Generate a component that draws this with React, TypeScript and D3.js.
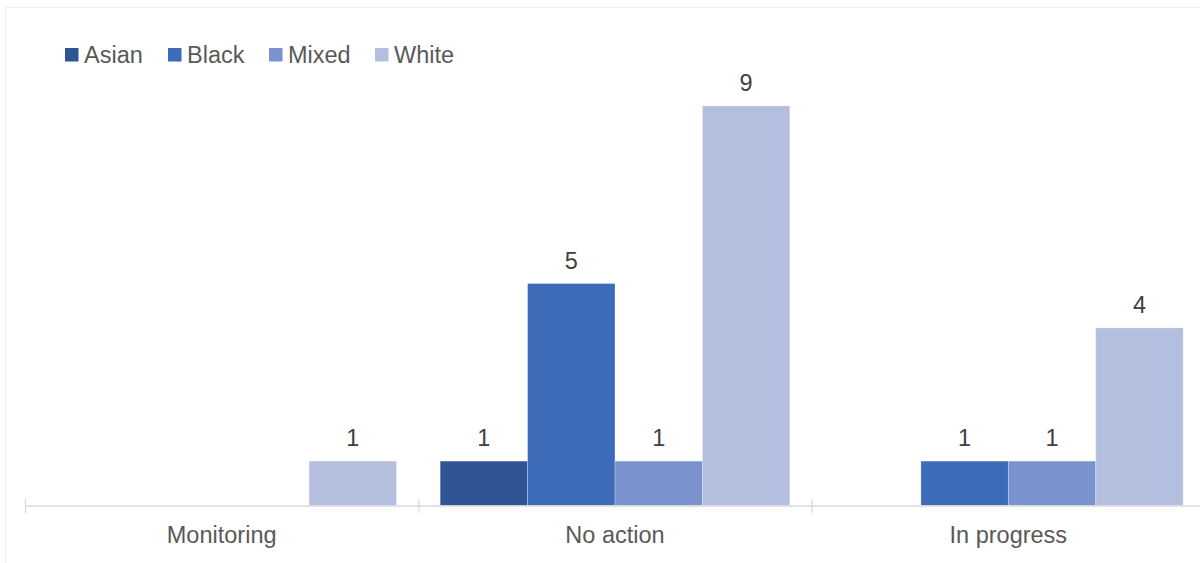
import React from "react";
import * as d3 from "d3";

const categories = ["Monitoring", "No action", "In progress"];
const seriesNames = ["Asian", "Black", "Mixed", "White"];
const asianValues = [0, 1, 0];
const blackValues = [0, 5, 1];
const mixedValues = [0, 1, 1];
const whiteValues = [1, 9, 4];
const seriesColors = ["#2F5597", "#3E6BB8", "#7A93CF", "#B4BFDF"];

const W = 1200;
const H = 563;

export default function App() {
  const seriesValues = [asianValues, blackValues, mixedValues, whiteValues];
  const x0 = d3.scaleBand<string>().domain(categories).range([25, 1205]).paddingInner(0).paddingOuter(0);
  const x1 = d3
    .scaleBand<string>()
    .domain(seriesNames)
    .range([0, x0.bandwidth()])
    .paddingInner(0)
    .paddingOuter(0.25);
  const y = d3.scaleLinear().domain([0, 10]).range([505.5, 61.5]);
  const font = "'Liberation Sans', Arial, sans-serif";

  const legendX = [65, 168, 269, 375];

  return (
    <svg width={W} height={H} style={{ position: "absolute", left: 0, top: 0, background: "#fff" }} fontFamily={font}>
      <rect x={5.5} y={7.5} width={1200} height={560} fill="#fff" stroke="#f0f0f0" strokeWidth={1} />
      {/* legend */}
      {seriesNames.map((s, i) => (
        <g key={s}>
          <rect x={legendX[i]} y={48} width={13.5} height={13.5} fill={seriesColors[i]} />
          <text x={legendX[i] + 19} y={63} fontSize={23.5} fill="#595959">
            {s}
          </text>
        </g>
      ))}
      {/* bars */}
      {categories.map((c, ci) => (
        <g key={c} transform={`translate(${x0(c)},0)`}>
          {seriesNames.map((s, si) => {
            const v = seriesValues[si][ci];
            if (!v) return null;
            const bx = x1(s)!;
            return (
              <g key={s}>
                <rect
                  x={bx}
                  y={y(v)}
                  width={x1.bandwidth()}
                  height={y(0) - y(v)}
                  fill={seriesColors[si]}
                  stroke="#ffffff"
                  strokeOpacity={0.35}
                  strokeWidth={0.75}
                />
                <text
                  x={bx + x1.bandwidth() / 2}
                  y={y(v) - 15}
                  textAnchor="middle"
                  fontSize={23.5}
                  fill="#404040"
                >
                  {v}
                </text>
              </g>
            );
          })}
        </g>
      ))}
      {/* axis */}
      <line x1={25} x2={1205} y1={506} y2={506} stroke="#d9d9d9" strokeWidth={1.5} />
      {[...categories.map((c) => x0(c)!), 1205].map((t, i) => (
        <line key={i} x1={t + 0.5} x2={t + 0.5} y1={499} y2={513} stroke="#d9d9d9" strokeWidth={1.25} />
      ))}
      {categories.map((c) => (
        <text
          key={c}
          x={x0(c)! + x0.bandwidth() / 2}
          y={543}
          textAnchor="middle"
          fontSize={23.5}
          fill="#595959"
        >
          {c}
        </text>
      ))}
    </svg>
  );
}
